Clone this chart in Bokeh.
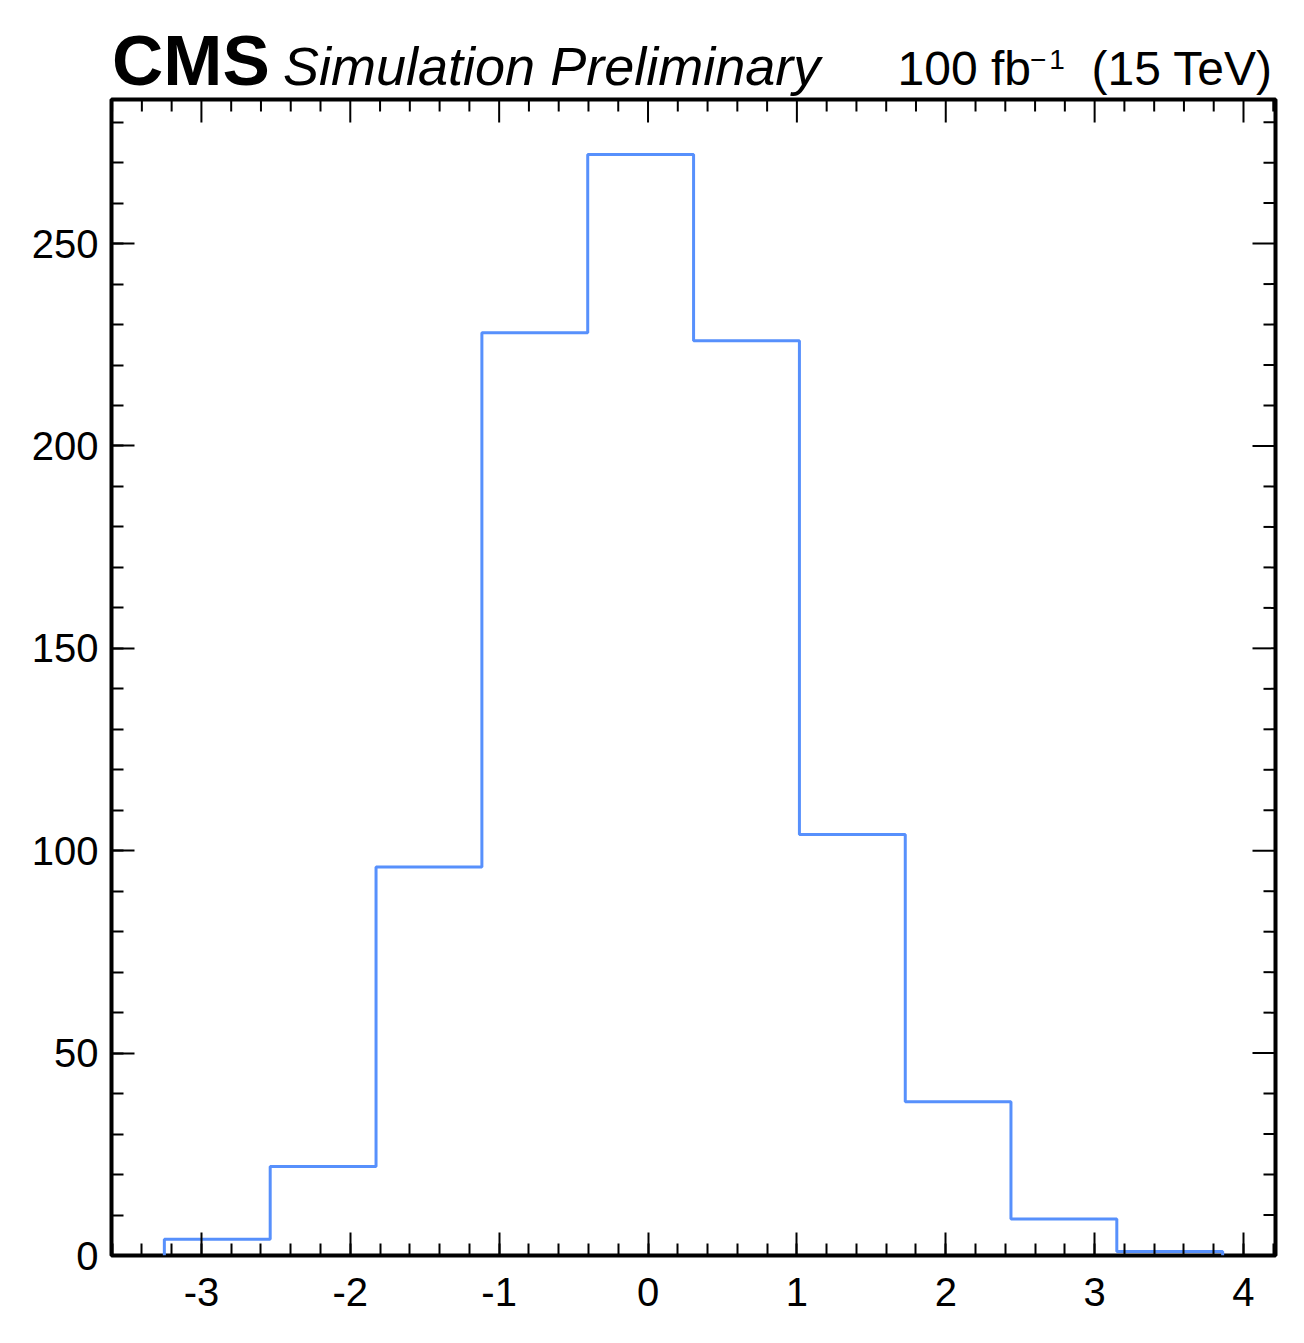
from bokeh.plotting import figure
from bokeh.models import SingleIntervalTicker, Range1d, Div
from bokeh.layouts import column
from bokeh.embed import file_html
from bokeh.resources import INLINE

# ---- data ----
bin_edges = [-3.249, -2.538, -1.827, -1.116, -0.405, 0.306, 1.017, 1.728, 2.438, 3.149, 3.860]
counts = [4, 22, 96, 228, 272, 226, 104, 38, 9, 1]
x_ticks = [-3, -2, -1, 0, 1, 2, 3, 4]
y_ticks = [0, 50, 100, 150, 200, 250]
cms_text = "CMS"
extra_text = "Simulation Preliminary"
lumi_text = "100 fb"
lumi_sup = "\u22121"
energy_text = "(15 TeV)"

X0, X1 = -3.604, 4.215
Y0, Y1 = 0.0, 285.6

FONT = "Liberation Sans"
COLOR = "#5790fc"

W = 1288
HEAD_H = 96          # header (Div) height
FL, FW, FH = 111, 1164, 1156
FT = 99 - HEAD_H
FB = 72
H = FT + FH + FB

p = figure(width=W, height=H, output_backend="svg", toolbar_location=None,
           x_range=Range1d(X0, X1), y_range=Range1d(Y0, Y1),
           min_border_left=FL, min_border_top=FT,
           min_border_right=W - FL - FW, min_border_bottom=FB)
p.grid.visible = False
p.outline_line_color = "black"
p.outline_line_width = 4
p.background_fill_color = "white"
p.border_fill_color = "white"

MAJ, MIN = 23, 12   # tick lengths in px

def style_axis(ax, standoff):
    ax.axis_line_color = None
    ax.major_tick_in = MAJ
    ax.major_tick_out = 0
    ax.minor_tick_in = MIN
    ax.minor_tick_out = 0
    ax.major_tick_line_width = 2
    ax.minor_tick_line_width = 2
    ax.major_tick_line_color = "black"
    ax.minor_tick_line_color = "black"
    ax.major_label_text_font = FONT
    ax.major_label_text_color = "black"
    ax.major_label_text_font_size = "40px"
    ax.major_label_standoff = standoff

x_step = x_ticks[1] - x_ticks[0]
y_step = y_ticks[1] - y_ticks[0]
p.xaxis.ticker = SingleIntervalTicker(interval=x_step, num_minor_ticks=5)
p.yaxis.ticker = SingleIntervalTicker(interval=y_step, num_minor_ticks=5)
style_axis(p.xaxis[0], 22)
style_axis(p.yaxis[0], 13)
p.xaxis.major_label_overrides = {t: str(t) for t in x_ticks}
p.yaxis.major_label_overrides = {t: str(t) for t in y_ticks}

# mirrored ticks on the top and right edges (from the same tick lists)
SX = FW / (X1 - X0)
SY = FH / (Y1 - Y0)
x_minor = [x_ticks[0] - x_step + k * x_step / 5 for k in range(1, 5 * (len(x_ticks) + 1))]
x_minor = [v for v in x_minor if X0 < v < X1 and all(abs(v - t) > 1e-9 for t in x_ticks)]
y_minor = [k * y_step / 5 for k in range(1, 5 * (len(y_ticks) + 1))]
y_minor = [v for v in y_minor if Y0 < v < Y1 and all(abs(v - t) > 1e-9 for t in y_ticks)]

p.segment(x0=x_ticks, y0=[Y1] * len(x_ticks), x1=x_ticks, y1=[Y1 - MAJ / SY] * len(x_ticks),
          line_color="black", line_width=2)
p.segment(x0=x_minor, y0=[Y1] * len(x_minor), x1=x_minor, y1=[Y1 - MIN / SY] * len(x_minor),
          line_color="black", line_width=2)
p.segment(x0=[X1] * len(y_ticks), y0=y_ticks, x1=[X1 - MAJ / SX] * len(y_ticks), y1=y_ticks,
          line_color="black", line_width=2)
p.segment(x0=[X1] * len(y_minor), y0=y_minor, x1=[X1 - MIN / SX] * len(y_minor), y1=y_minor,
          line_color="black", line_width=2)

# histogram outline (step)
xs = [bin_edges[0]]
ys = [0]
for i, c in enumerate(counts):
    xs += [bin_edges[i], bin_edges[i + 1]]
    ys += [c, c]
xs.append(bin_edges[-1])
ys.append(0)
p.line(xs, ys, line_color=COLOR, line_width=3)

# ---- header as real HTML text ----
ASC = 0.8465  # baseline offset (em) for line-height:1 in Liberation Sans

def span(text, baseline, size, extra="", left=None, right=None):
    top = baseline - ASC * size
    pos = f"left:{left}px;" if right is None else f"right:{right}px;"
    return (f'<span style="position:absolute;{pos}top:{top:.1f}px;'
            f'font-size:{size}px;line-height:1;white-space:nowrap;{extra}">{text}</span>')

html = (
    f'<div style="position:relative;width:{W}px;height:{HEAD_H}px;'
    f'font-family:\'{FONT}\';color:black;">'
    + span(cms_text, 85, 71, "font-weight:bold;", left=112)
    + span(extra_text, 85, 54, "font-style:italic;", left=283)
    + span(lumi_text, 86, 48, right=W - 1031)
    + span(lumi_sup, 70, 28, "letter-spacing:3px;", left=1030)
    + span(energy_text, 86, 48, right=W - 1272)
    + '</div>'
)
head = Div(text=html, width=W, height=HEAD_H, margin=(0, 0, 0, 0),
           styles={"overflow": "visible"})

layout = column(head, p, spacing=0)
open("out.html", "w").write(file_html(layout, INLINE))
